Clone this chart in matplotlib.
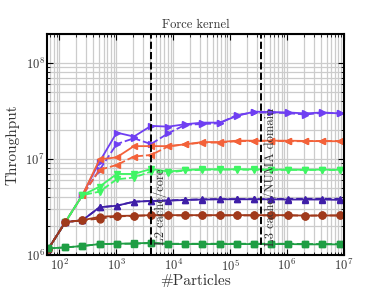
import matplotlib
matplotlib.use('Agg')
import matplotlib.pyplot as plt

plt.rcParams['font.family'] = ['cmr10', 'DejaVu Serif']
plt.rcParams['mathtext.fontset'] = 'cm'
plt.rcParams['axes.unicode_minus'] = False

# particle counts 2^6 .. 2^23
n = [2 ** k for k in range(6, 24)]

# right-triangle (purple)
tri_r = [1.15e6, 2.2e6, 4.2e6, 9.4e6, 1.88e7, 1.71e7, 2.21e7, 2.17e7, 2.3e7, 2.39e7,
         2.39e7, 2.8e7, 3.11e7, 3.08e7, 3.05e7, 2.98e7, 3.05e7, 2.98e7]
tri_r_d = [1.15e6, 2.2e6, 4.2e6, 7.7e6, 1.43e7, 1.64e7, 1.43e7, 1.85e7, 2.27e7, 2.31e7,
           2.35e7, 2.87e7, 3.05e7, 3.05e7, 3.0e7, 2.9e7, 3.03e7, 2.98e7]
# left-triangle (orange)
tri_l = [1.15e6, 2.2e6, 4.2e6, 9.9e6, 1.04e7, 1.36e7, 1.36e7, 1.36e7, 1.42e7, 1.5e7,
         1.5e7, 1.55e7, 1.55e7, 1.55e7, 1.55e7, 1.54e7, 1.53e7, 1.53e7]
tri_l_d = [1.15e6, 2.2e6, 4.2e6, 7.7e6, 8.66e6, 1.06e7, 1.1e7, 1.35e7, 1.42e7, 1.48e7,
           1.48e7, 1.53e7, 1.54e7, 1.54e7, 1.53e7, 1.53e7, 1.54e7, 1.54e7]
# down-triangle (light green)
tri_d = [1.15e6, 2.2e6, 4.2e6, 5.15e6, 6.98e6, 6.98e6, 7.87e6, 7.4e6, 7.67e6, 7.8e6,
         7.8e6, 7.8e6, 7.8e6, 7.75e6, 7.75e6, 7.7e6, 7.75e6, 7.7e6]
tri_d_d = [1.15e6, 2.2e6, 4.2e6, 4.57e6, 6.14e6, 6.4e6, 7.4e6, 7.2e6, 7.6e6, 7.7e6,
           7.75e6, 7.75e6, 7.7e6, 7.7e6, 7.7e6, 7.7e6, 7.7e6, 7.65e6]
# up-triangle (dark purple)
tri_u = [1.15e6, 2.2e6, 2.3e6, 3.14e6, 3.26e6, 3.59e6, 3.65e6, 3.68e6, 3.74e6, 3.78e6,
         3.8e6, 3.8e6, 3.8e6, 3.8e6, 3.78e6, 3.78e6, 3.78e6, 3.75e6]
tri_u_d = [1.15e6, 2.2e6, 2.3e6, 3.14e6, 3.26e6, 3.59e6, 3.65e6, 3.7e6, 3.76e6, 3.8e6,
           3.82e6, 3.82e6, 3.82e6, 3.82e6, 3.85e6, 3.85e6, 3.85e6, 3.85e6]
# circles (brown)
circ = [1.15e6, 2.2e6, 2.3e6, 2.5e6, 2.55e6, 2.57e6, 2.6e6, 2.6e6, 2.6e6, 2.6e6,
        2.6e6, 2.6e6, 2.6e6, 2.6e6, 2.6e6, 2.57e6, 2.58e6, 2.58e6]
circ_d = [1.15e6, 2.2e6, 2.3e6, 2.39e6, 2.52e6, 2.56e6, 2.58e6, 2.58e6, 2.58e6, 2.58e6,
          2.58e6, 2.58e6, 2.58e6, 2.58e6, 2.58e6, 2.57e6, 2.58e6, 2.58e6]
# squares (green)
sq = [1.17e6, 1.2e6, 1.24e6, 1.3e6, 1.31e6, 1.32e6, 1.34e6, 1.3e6, 1.3e6, 1.3e6,
      1.3e6, 1.3e6, 1.3e6, 1.3e6, 1.3e6, 1.29e6, 1.29e6, 1.29e6]
sq_d = [1.17e6, 1.2e6, 1.24e6, 1.3e6, 1.31e6, 1.31e6, 1.33e6, 1.31e6, 1.31e6, 1.31e6,
        1.31e6, 1.31e6, 1.31e6, 1.31e6, 1.31e6, 1.3e6, 1.3e6, 1.3e6]

l2_cache = 4096
l3_cache = 3.5e5

series = [
    (tri_r, tri_r_d, '>', '#6f3ff2'),
    (tri_l, tri_l_d, '<', '#f3623a'),
    (tri_d, tri_d_d, 'v', '#3ff563'),
    (tri_u, tri_u_d, '^', '#3f1fa8'),
    (circ, circ_d, 'o', '#a0391b'),
    (sq, sq_d, 's', '#1f9e44'),
]

fig = plt.figure(figsize=(3.82, 2.87), dpi=100)
ax = fig.add_axes([0.124, 0.1115, 0.7765, 0.77])

for solid, dashed, m, c in series:
    ax.plot(n, solid, '-', marker=m, color=c, lw=1.3, ms=5)
    ax.plot(n, dashed, '--', marker=m, color=c, lw=1.3, ms=5)

ax.axvline(l2_cache, color='k', ls='--', lw=1.4)
ax.axvline(l3_cache, color='k', ls='--', lw=1.4)
ax.text(l2_cache * 1.1, 1.27e6, 'L2 cache/core', rotation=90, ha='left', va='bottom',
        fontsize=9, color='#333333')
ax.text(l3_cache * 1.1, 1.25e6, 'L3 cache/NUMA domain', rotation=90, ha='left', va='bottom',
        fontsize=9, color='#333333')

ax.set_xscale('log')
ax.set_yscale('log')
ax.set_xlim(62, 1e7)
ax.set_ylim(1e6, 2e8)
ax.grid(True, which='both', color='#cccccc', lw=0.9)
ax.set_axisbelow(True)
for s in ax.spines.values():
    s.set_linewidth(1.5)
ax.tick_params(which='both', direction='in', top=True, right=True, labelsize=9,
               labelcolor='#333333', pad=2)
ax.tick_params(which='major', length=4)
ax.tick_params(which='minor', length=2)

ax.set_title('Force kernel', fontsize=9, color='#333333', pad=4)
ax.set_xlabel('#Particles', fontsize=11, color='#333333', labelpad=0)
ax.set_ylabel('Throughput', fontsize=11, color='#333333', labelpad=4)

fig.savefig('out.png', dpi=100)
